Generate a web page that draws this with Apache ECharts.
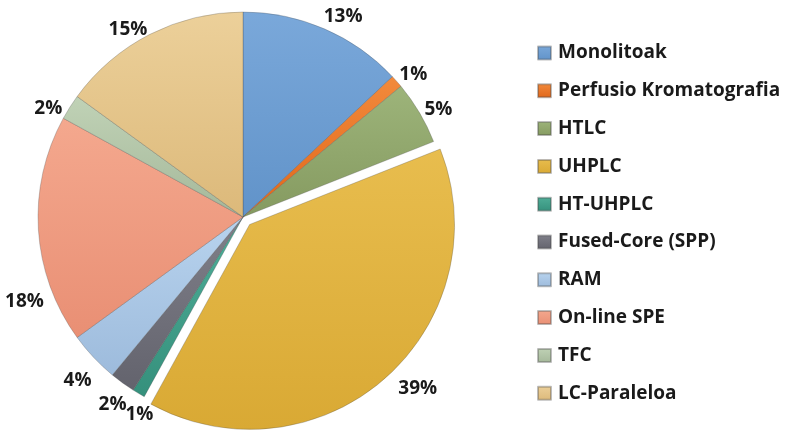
<!DOCTYPE html>
<html>
<head>
<meta charset="utf-8">
<script src="https://cdn.jsdelivr.net/npm/echarts@6/dist/echarts.min.js"></script>
<style>
  html, body { margin: 0; padding: 0; background: #ffffff; }
  #chart { width: 787px; height: 433px; }
</style>
</head>
<body>
<div id="chart"></div>
<script>
// Techniques and their share (%)
const categories = [
  'Monolitoak', 'Perfusio Kromatografia', 'HTLC', 'UHPLC', 'HT-UHPLC',
  'Fused-Core (SPP)', 'RAM', 'On-line SPE', 'TFC', 'LC-Paraleloa'
];
const shares = [13, 1, 5, 39, 1, 2, 4, 18, 2, 15];
// Slice that is pulled out of the pie
const explodedName = 'UHPLC';

// Slice colours: [light, dark] pairs for a soft shaded fill
const palette = [
  ['#7aa8da', '#6193c9'],
  ['#f28a3c', '#e0661a'],
  ['#9db47a', '#859a60'],
  ['#e8bd4e', '#d9a934'],
  ['#4fae98', '#35907c'],
  ['#80808a', '#63636d'],
  ['#b8d3ee', '#9dbbdc'],
  ['#f4a88e', '#e98f74'],
  ['#c0d2b6', '#a5b89a'],
  ['#ecd09a', '#dcb97a']
];

// Percent labels sit a touch below their bisector point;
// a few are shifted to keep clear of their neighbours
const labelDrop = 8;
const labelNudge = {
  'Monolitoak': [10, 0],
  'UHPLC': [18, -14],
  'HT-UHPLC': [12, -6],
  'Fused-Core (SPP)': [3, -4],
  'On-line SPE': [8, 62],
  'TFC': [-3, 5],
  'LC-Paraleloa': [-12, 7]
};

const data = categories.map((name, i) => ({
  name: name,
  value: shares[i],
  selected: name === explodedName,
  itemStyle: {
    color: new echarts.graphic.LinearGradient(0, 0, 0, 1, [
      { offset: 0, color: palette[i][0] },
      { offset: 1, color: palette[i][1] }
    ])
  }
}));

const chart = echarts.init(document.getElementById('chart'), null, { renderer: 'canvas' });
chart.setOption({
  backgroundColor: '#ffffff',
  animation: false,
  legend: {
    orient: 'vertical',
    left: 532,
    top: 38,
    icon: 'rect',
    itemWidth: 13,
    itemHeight: 13,
    itemGap: 17.8,
    selectedMode: false,
    textStyle: {
      fontFamily: 'Open Sans',
      fontWeight: 700,
      fontSize: 19,
      lineHeight: 20,
      color: '#1a1a1a',
      padding: [0, 0, 0, 2]
    },
    data: categories
  },
  series: [{
    type: 'pie',
    center: [243, 217],
    radius: [0, 205],
    startAngle: 90,
    clockwise: true,
    selectedMode: 'single',
    selectedOffset: 10,
    avoidLabelOverlap: false,
    itemStyle: {
      borderColor: 'rgba(70,70,70,0.35)',
      borderWidth: 0.8
    },
    label: {
      show: true,
      position: 'outside',
      formatter: '{c}%',
      fontFamily: 'Open Sans',
      fontWeight: 700,
      fontSize: 19,
      color: '#1a1a1a',
      distanceToLabelLine: 0
    },
    labelLine: { show: false, length: 22, length2: 0 },
    labelLayout: function (p) {
      const n = labelNudge[categories[p.dataIndex]] || [0, 0];
      return {
        align: 'center',
        verticalAlign: 'middle',
        hideOverlap: false,
        dx: n[0],
        dy: n[1] + labelDrop
      };
    },
    emphasis: { disabled: true },
    data: data
  }]
});
</script>
</body>
</html>
